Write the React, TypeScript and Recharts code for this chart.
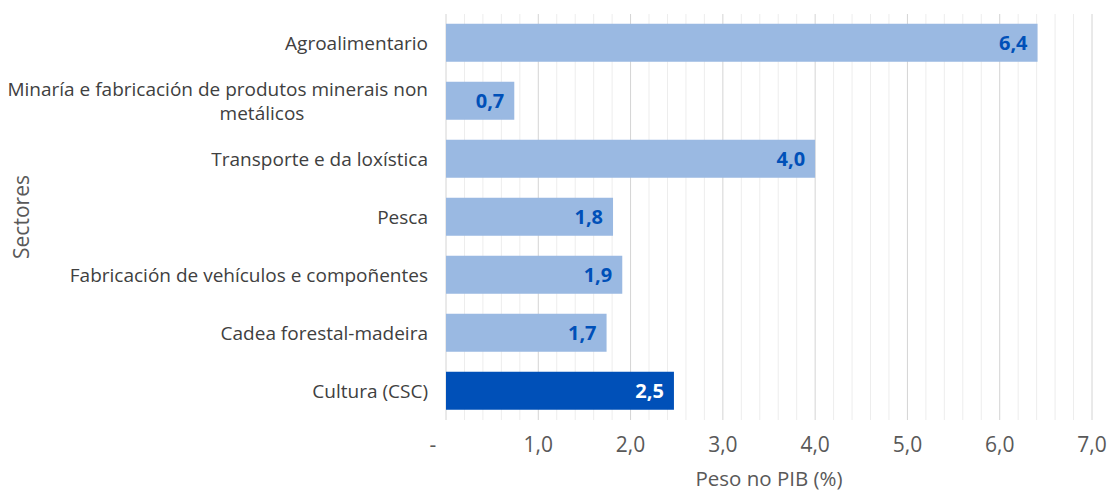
import { Bar, BarChart, CartesianGrid, Cell, LabelList, XAxis, YAxis } from "recharts";

const sectores = [
  "Agroalimentario",
  "Minaría e fabricación de produtos minerais non metálicos",
  "Transporte e da loxística",
  "Pesca",
  "Fabricación de vehículos e compoñentes",
  "Cadea forestal-madeira",
  "Cultura (CSC)",
];
const peso = [6.41, 0.74, 4.0, 1.81, 1.91, 1.74, 2.47];
const destacado = [false, false, false, false, false, false, true];
const xTicks = [0, 1, 2, 3, 4, 5, 6, 7];
const minorTicks = Array.from({ length: 36 }, (_, i) => Math.round(i * 2) / 10);

const data = sectores.map((name, i) => ({ name, value: peso[i], hi: destacado[i] }));

const FONT = "'Open Sans', sans-serif";
const LIGHT = "#9ab9e2";
const DARK = "#0050b8";
const X_MAX = 7;

const fmt = (v: number) => v.toFixed(1).replace(".", ",");

function wrap(label: string, max: number) {
  const lines: string[] = [];
  let cur = "";
  for (const w of label.split(" ")) {
    if (cur && (cur + " " + w).length > max) {
      lines.push(cur);
      cur = w;
    } else cur = cur ? cur + " " + w : w;
  }
  if (cur) lines.push(cur);
  return lines;
}

// map axis values onto the plot width (same linear domain as the XAxis)
const gridAt = (vals: number[]) => (p: any) => {
  const scale = p.xAxis?.scale;
  if (typeof scale === "function") return vals.map((v) => scale(v));
  if (scale && typeof scale.map === "function") return vals.map((v) => scale.map(v));
  const { left, width } = p.offset;
  return vals.map((v) => left + (v / X_MAX) * width);
};

const YTick = (props: any) => {
  const { x, y, payload } = props;
  const lines = wrap(payload.value, 47);
  const lh = 24;
  const y0 = y - ((lines.length - 1) * lh) / 2;
  return (
    <g>
      {lines.map((l, i) => (
        <text
          key={i}
          x={i === 0 ? x : x - 166}
          y={y0 + i * lh}
          dy="0.35em"
          textAnchor={i === 0 ? "end" : "middle"}
          fill="#404040"
          fontSize={19}
          fontFamily={FONT}
        >
          {l}
        </text>
      ))}
    </g>
  );
};

const XTick = (props: any) => {
  const { x, y, payload } = props;
  const v = payload.value as number;
  return (
    <text
      x={v === 0 ? x - 13 : x}
      y={y + 24}
      textAnchor="middle"
      fill="#595959"
      fontSize={21}
      fontFamily={FONT}
    >
      {v === 0 ? "-" : fmt(v)}
    </text>
  );
};

const XTitle = (props: any) => {
  const { viewBox } = props;
  return (
    <text
      x={viewBox.x + viewBox.width / 2}
      y={486}
      textAnchor="middle"
      fill="#595959"
      fontSize={20.5}
      fontFamily={FONT}
    >
      Peso no PIB (%)
    </text>
  );
};

export default function App() {
  return (
    <div style={{ width: 1108, height: 494, background: "#fff" }}>
      <style>{`body{margin:0}`}</style>
      <BarChart
        width={1108}
        height={494}
        data={data}
        layout="vertical"
        margin={{ top: 14, right: 16, bottom: 0, left: 0 }}
        barCategoryGap="17%"
      >
        <CartesianGrid
          horizontal={false}
          stroke="#ededed"
          verticalCoordinatesGenerator={gridAt(minorTicks.filter((t) => t % 1 !== 0))}
        />
        <CartesianGrid
          horizontal={false}
          stroke="#d4d4d4"
          verticalCoordinatesGenerator={gridAt(xTicks)}
        />
        <XAxis
          type="number"
          domain={[0, X_MAX]}
          ticks={xTicks}
          axisLine={false}
          tickLine={false}
          height={74}
          tick={<XTick />}
          interval={0}
          label={<XTitle />}
        />
        <YAxis
          type="category"
          dataKey="name"
          width={446}
          axisLine={false}
          tickLine={false}
          tickMargin={12}
          tick={<YTick />}
          interval={0}
          label={{
            value: "Sectores",
            angle: -90,
            position: "center",
            dx: -201,
            fill: "#595959",
            fontSize: 21,
            fontFamily: FONT,
          }}
        />
        <Bar dataKey="value" isAnimationActive={false}>
          {data.map((d, i) => (
            <Cell key={i} fill={d.hi ? DARK : LIGHT} />
          ))}
          <LabelList
            dataKey="value"
            content={(p: any) => {
              const { x, y, width, height, value, index } = p;
              return (
                <text
                  x={x + width - 10}
                  y={y + height / 2}
                  dy="0.35em"
                  textAnchor="end"
                  fill={data[index].hi ? "#ffffff" : DARK}
                  fontSize={20}
                  fontWeight="bold"
                  fontFamily={FONT}
                >
                  {fmt(Number(value))}
                </text>
              );
            }}
          />
        </Bar>
      </BarChart>
    </div>
  );
}
